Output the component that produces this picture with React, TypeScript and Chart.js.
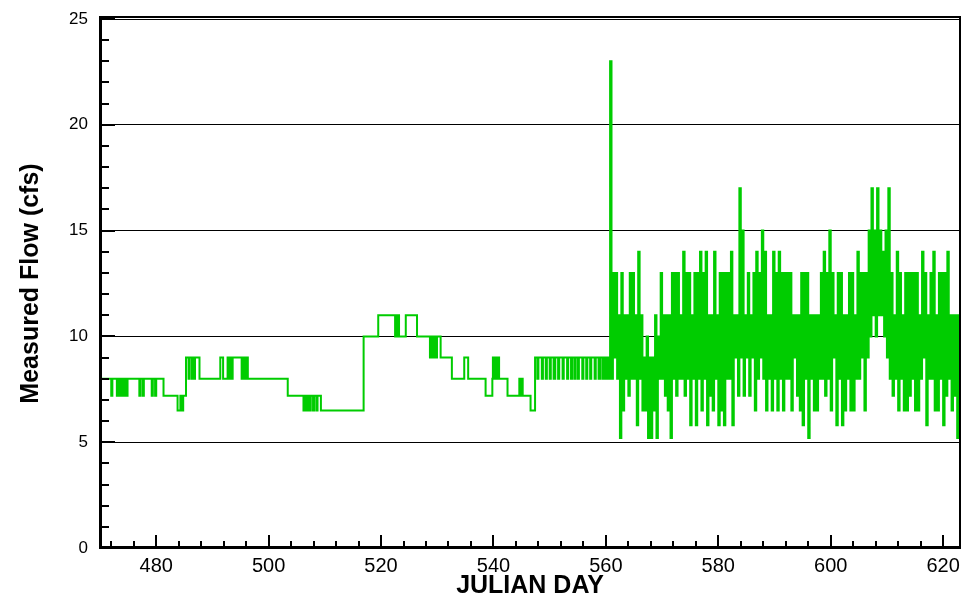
import React, { useEffect, useRef } from 'react';
import { Chart, registerables } from 'chart.js';

Chart.register(...registerables);

const X_MIN = 470;
const X_MAX = 623;
const X_TICKS = [480, 500, 520, 540, 560, 580, 600, 620];
const X_MINOR_START = 472;
const X_MINOR_STEP = 4;
const Y_MIN = 0;
const Y_MAX = 25;
const Y_STEP = 5;
const Y_MINOR_STEP = 1;

const X_TITLE = 'JULIAN DAY';
const Y_TITLE = 'Measured Flow (cfs)';

// Step changes of the measured flow (day, value from that day on)
const EARLY_DAYS = [
  470.0, 472.0, 472.2, 473.0, 473.2, 473.4, 473.6, 473.75, 473.9, 474.2, 474.4, 474.7, 474.9,
  477.0, 477.2, 477.6, 477.8, 479.2, 479.4, 479.8, 480.0, 481.3, 483.8, 484.3, 484.45, 484.8,
  485.3, 485.75, 485.9, 486.3, 486.45, 486.75, 486.9, 487.7, 491.4, 491.9,
  492.7, 492.85, 493.0, 493.15, 493.3, 493.45, 493.6, 495.2, 495.35, 495.5, 495.65, 495.8, 495.95, 496.3,
  503.4, 506.2, 506.5, 506.7, 507.0, 507.3, 507.5, 507.9, 508.1, 508.5, 508.7, 509.3,
  516.9, 519.5, 522.5, 522.6, 522.7, 522.8, 522.9, 523.0, 523.2, 524.4, 526.4,
  528.7, 528.85, 529.0, 529.15, 529.3, 529.45, 529.6, 529.95, 530.6, 532.6, 534.8, 535.5,
  538.6, 539.8, 539.9, 540.1, 540.3, 540.5, 540.7, 541.0, 542.5, 544.6, 544.8, 545.0, 545.2, 546.6,
  547.4, 547.8, 548.0, 548.6, 548.8, 549.3, 549.5, 550.0, 550.2, 550.7, 551.0, 551.5, 551.7, 552.3,
  552.5, 553.1, 553.3, 553.8, 554.0, 554.4, 554.6, 555.0, 555.2, 555.8, 556.0, 556.5, 556.7, 557.2,
  557.4, 558.0, 558.2, 558.7, 559.0, 559.4, 559.7, 560.0, 560.3, 560.5,
];
const EARLY_FLOWS = [
  8, 7.2, 8, 7.2, 8, 7.2, 8, 7.2, 8, 7.2, 8, 7.2, 8,
  7.2, 8, 7.2, 8, 7.2, 8, 7.2, 8, 7.2, 6.5, 7.2, 6.5, 7.2,
  9, 8, 9, 8, 9, 8, 9, 8, 9, 8,
  9, 8, 9, 8, 9, 8, 9, 8, 9, 8, 9, 8, 9, 8,
  7.2, 6.5, 7.2, 6.5, 7.2, 6.5, 7.2, 6.5, 7.2, 6.5, 7.2, 6.5,
  10, 11, 10, 11, 10, 11, 10, 11, 10, 11, 10,
  9, 10, 9, 10, 9, 10, 9, 10, 9, 8, 9, 8,
  7.2, 8, 9, 8, 9, 8, 9, 8, 7.2, 8, 7.2, 8, 7.2, 6.5,
  9, 8, 9, 8, 9, 8, 9, 8, 9, 8, 9, 8, 9, 8,
  9, 8, 9, 8, 9, 8, 9, 8, 9, 8, 9, 8, 9, 8,
  9, 8, 9, 8, 9, 8, 9, 8, 9, 8,
];

// Later, rapidly varying record (one reading every LATE_STEP days)
const LATE_START = 560.75;
const LATE_STEP = 0.25;
const LATE_FLOWS = [
  23, 8, 13, 9,
  13, 8, 11, 5.2,
  13, 6.5, 11, 8,
  11, 7.2, 13, 8,
  13, 8, 11, 5.8,
  14, 8, 11, 6.5,
  9, 6.5, 10, 5.2,
  9, 5.2, 9, 6.5,
  11, 5.2, 10, 8,
  13, 8, 11, 7.2,
  11, 6.5, 11, 5.2,
  13, 8, 13, 7.2,
  13, 8, 11, 8,
  14, 7.2, 13, 8,
  13, 5.8, 11, 8,
  13, 5.8, 13, 8,
  14, 6.5, 13, 8,
  14, 5.8, 11, 7.2,
  11, 6.5, 14, 8,
  11, 5.8, 13, 6.5,
  13, 5.8, 13, 8,
  13, 8, 14, 5.8,
  11, 9, 11, 7.2,
  17, 9, 15, 7.2,
  11, 9, 13, 7.2,
  11, 9, 13, 6.5,
  14, 8, 13, 9,
  15, 8, 14, 6.5,
  11, 8, 11, 6.5,
  14, 8, 13, 6.5,
  14, 8, 13, 6.5,
  13, 8, 13, 8,
  13, 6.5, 11, 9,
  11, 7.2, 11, 6.5,
  13, 5.8, 13, 8,
  13, 5.2, 11, 8,
  11, 6.5, 11, 6.5,
  11, 8, 13, 8,
  14, 7.2, 13, 8,
  15, 6.5, 13, 9,
  11, 5.8, 13, 8,
  13, 5.8, 11, 6.5,
  11, 8, 13, 6.5,
  13, 6.5, 11, 8,
  14, 8, 13, 9,
  13, 6.5, 13, 9,
  15, 10, 17, 11,
  15, 10, 17, 11,
  15, 11, 14, 10,
  15, 9, 17, 8,
  13, 7.2, 11, 8,
  14, 6.5, 13, 8,
  11, 6.5, 13, 6.5,
  13, 7.2, 13, 8,
  13, 6.5, 13, 6.5,
  11, 8, 14, 9,
  13, 5.8, 11, 8,
  13, 8, 14, 6.5,
  11, 6.5, 13, 8,
  13, 5.8, 13, 7.2,
  14, 8, 11, 6.5,
  11, 7.2, 11, 5.2,
  11, 5.8, 11, 8,
];

const FONT = "'Liberation Sans', Arial, Helvetica, sans-serif";

const frameAxes = {
  id: 'frameAxes',
  afterDatasetsDraw(chart: any) {
    const { ctx, chartArea: a, scales } = chart;
    const x = scales.x;
    const y = scales.y;
    ctx.save();
    ctx.strokeStyle = '#000';
    ctx.lineCap = 'butt';
    // x ticks (inward)
    ctx.lineWidth = 2;
    for (let v = X_MINOR_START; v <= X_MAX; v += X_MINOR_STEP) {
      const px = Math.round(x.getPixelForValue(v));
      const major = v % 20 === 0;
      ctx.beginPath();
      ctx.moveTo(px, a.bottom);
      ctx.lineTo(px, a.bottom - (major ? 13 : 7));
      ctx.stroke();
    }
    // y ticks (inward)
    ctx.lineWidth = 2;
    for (let v = Y_MIN; v <= Y_MAX; v += Y_MINOR_STEP) {
      const py = Math.round(y.getPixelForValue(v));
      const major = v % Y_STEP === 0;
      ctx.beginPath();
      ctx.moveTo(a.left, py);
      ctx.lineTo(a.left + (major ? 15 : 9), py);
      ctx.stroke();
    }
    // frame
    ctx.lineWidth = 2;
    ctx.beginPath();
    ctx.moveTo(a.left, a.top - 2);
    ctx.lineTo(a.right, a.top - 2);
    ctx.lineTo(a.right, a.bottom);
    ctx.stroke();
    ctx.lineWidth = 3;
    ctx.beginPath();
    ctx.moveTo(a.left + 0.5, a.top - 3);
    ctx.lineTo(a.left + 0.5, a.bottom - 0.5);
    ctx.lineTo(a.right + 1, a.bottom - 0.5);
    ctx.stroke();
    ctx.restore();
  },
};

export default function App() {
  const ref = useRef<HTMLCanvasElement>(null);

  useEffect(() => {
    if (!ref.current) return;
    const points: { x: number; y: number }[] = [];
    EARLY_DAYS.forEach((d, i) => points.push({ x: d, y: EARLY_FLOWS[i] }));
    LATE_FLOWS.forEach((f, i) => points.push({ x: LATE_START + i * LATE_STEP, y: f }));

    const chart = new Chart(ref.current, {
      type: 'line',
      data: {
        datasets: [
          {
            data: points,
            borderColor: 'rgb(0,204,0)',
            borderWidth: 2,
            pointRadius: 0,
            stepped: 'before',
            fill: false,
            tension: 0,
          },
        ],
      },
      options: {
        animation: false,
        responsive: false,
        devicePixelRatio: 1,
        layout: { padding: { top: 19, right: 5, left: 0, bottom: 0 } },
        plugins: { legend: { display: false }, tooltip: { enabled: false } },
        scales: {
          x: {
            type: 'linear',
            min: X_MIN,
            max: X_MAX,
            afterBuildTicks: (s: any) => {
              s.ticks = X_TICKS.map((v) => ({ value: v }));
            },
            afterFit: (s: any) => {
              s.height = 48;
            },
            grid: { display: false },
            border: { display: false },
            ticks: {
              font: { family: FONT, size: 20 },
              color: '#000',
              padding: -2,
              maxRotation: 0,
              autoSkip: false,
            },
            title: {
              display: true,
              text: X_TITLE,
              color: '#000',
              font: { family: FONT, size: 25, weight: 'bold' },
              padding: { top: 0, bottom: -5 },
            },
          },
          y: {
            min: Y_MIN,
            max: Y_MAX,
            afterFit: (s: any) => {
              s.width = 100;
            },
            ticks: {
              stepSize: Y_STEP,
              font: { family: FONT, size: 17 },
              color: '#000',
              padding: 0,
            },
            grid: {
              color: '#000',
              lineWidth: 1,
              drawTicks: true,
              tickLength: 12,
              tickColor: 'rgba(0,0,0,0)',
            },
            border: { display: false },
            title: {
              display: true,
              text: Y_TITLE,
              color: '#000',
              font: { family: FONT, size: 25, weight: 'bold' },
              padding: { top: 16, bottom: 0 },
            },
          },
        },
      } as any,
      plugins: [frameAxes],
    });
    return () => chart.destroy();
  }, []);

  return (
    <div style={{ position: 'fixed', left: 0, top: 0, width: 965, height: 596, background: '#fff' }}>
      <canvas ref={ref} width={965} height={596} style={{ display: 'block' }} />
    </div>
  );
}
